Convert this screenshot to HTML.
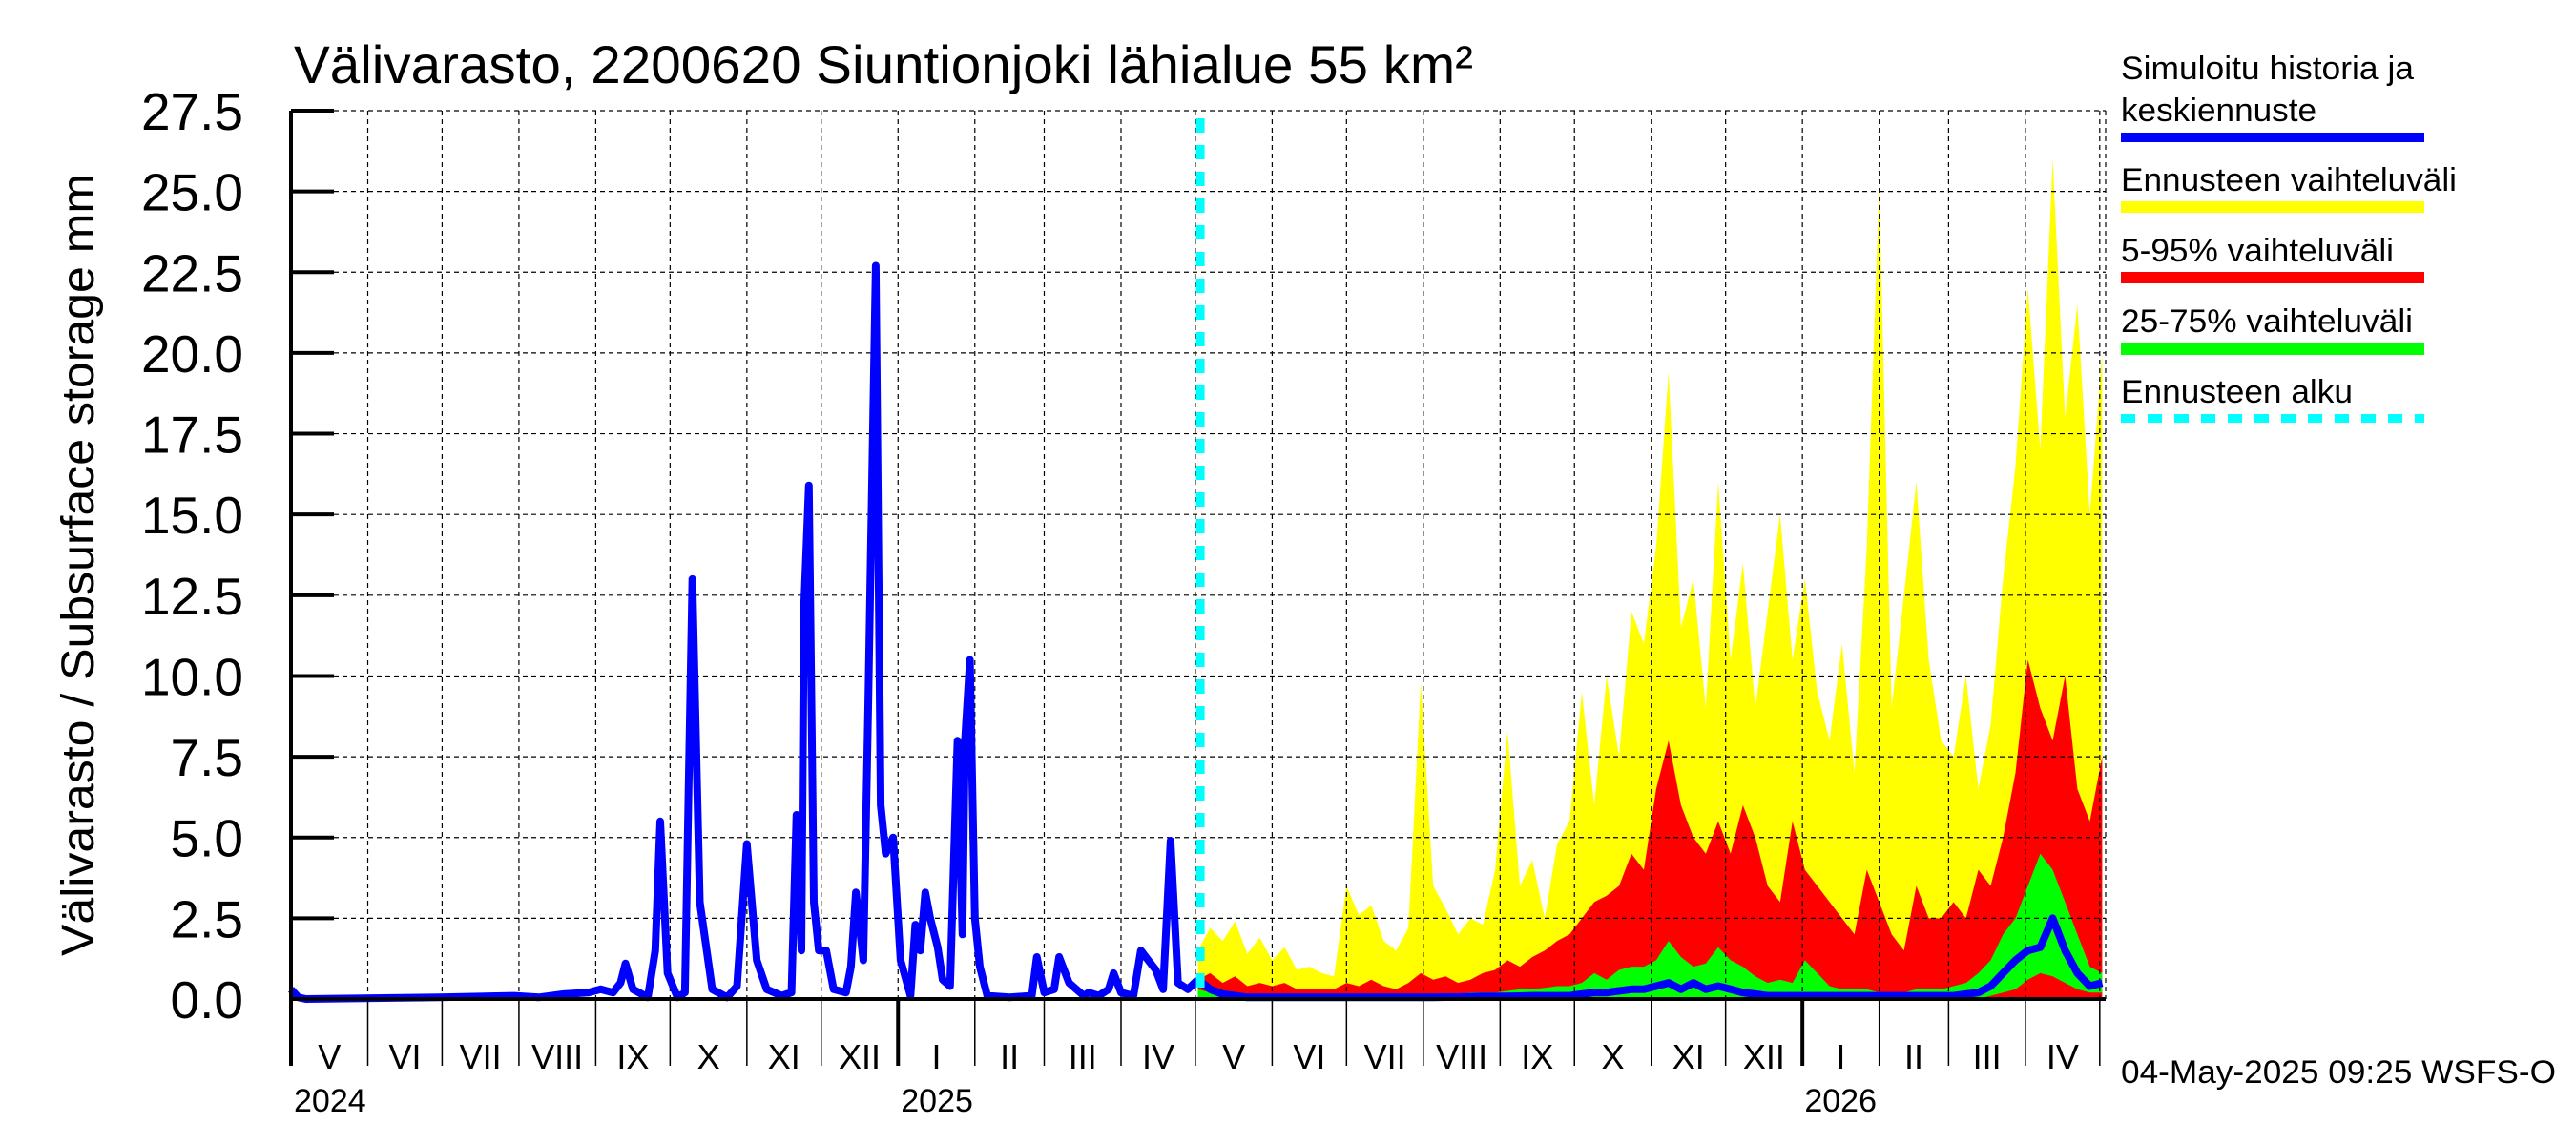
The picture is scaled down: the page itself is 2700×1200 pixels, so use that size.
<!DOCTYPE html>
<html><head><meta charset="utf-8"><style>
html,body{margin:0;padding:0;background:#fff;}
svg{display:block;font-family:"Liberation Sans",Arial,sans-serif;}
</style></head><body>
<svg id="chart" xmlns="http://www.w3.org/2000/svg" width="2700" height="1200" viewBox="0 0 2700 1200">
<rect x="0" y="0" width="2700" height="1200" fill="#fff"/>
<g id="bands"></g>
<g id="grid"></g>
<g id="lines"></g>
<g id="axes"></g>
<text x="308" y="87" font-size="56" textLength="1236" lengthAdjust="spacingAndGlyphs">Välivarasto, 2200620 Siuntionjoki lähialue 55 km²</text>
<text transform="translate(98,592) rotate(-90)" text-anchor="middle" font-size="48" textLength="820" lengthAdjust="spacingAndGlyphs">Välivarasto / Subsurface storage  mm</text>
<g font-size="34">
<text x="2223" y="83" textLength="307" lengthAdjust="spacingAndGlyphs">Simuloitu historia ja</text>
<text x="2223" y="127" textLength="205" lengthAdjust="spacingAndGlyphs">keskiennuste</text>
<rect x="2223" y="139" width="318" height="10" fill="#0000ff"/>
<text x="2223" y="200" textLength="352" lengthAdjust="spacingAndGlyphs">Ennusteen vaihteluväli</text>
<rect x="2223" y="211" width="318" height="12" fill="#ffff00"/>
<text x="2223" y="274" textLength="286" lengthAdjust="spacingAndGlyphs">5-95% vaihteluväli</text>
<rect x="2223" y="285" width="318" height="12" fill="#ff0000"/>
<text x="2223" y="348" textLength="306" lengthAdjust="spacingAndGlyphs">25-75% vaihteluväli</text>
<rect x="2223" y="359" width="318" height="13" fill="#00ff00"/>
<text x="2223" y="422" textLength="243" lengthAdjust="spacingAndGlyphs">Ennusteen alku</text>
<line x1="2223" y1="438.5" x2="2541" y2="438.5" stroke="#00ffff" stroke-width="9" stroke-dasharray="15,13"/>
</g>
<text x="2223" y="1135" font-size="34" textLength="456" lengthAdjust="spacingAndGlyphs">04-May-2025 09:25 WSFS-O</text>
</svg>
<script>
// ---- data ----
const yTicks = [0, 2.5, 5, 7.5, 10, 12.5, 15, 17.5, 20, 22.5, 25, 27.5];
const yTickLabels = ["0.0","2.5","5.0","7.5","10.0","12.5","15.0","17.5","20.0","22.5","25.0","27.5"];
const monthStarts = [0,31,61,92,123,153,184,214,245,276,304,335,365,396,426,457,488,518,549,579,610,641,669,700,730];
const monthLabels = ["V","VI","VII","VIII","IX","X","XI","XII","I","II","III","IV","V","VI","VII","VIII","IX","X","XI","XII","I","II","III","IV"];
const yearLabels = ["2024","2025","2026"];
const yearDays = [0,245,610];
const forecastStartDay = 367;
const histDays = [0,3,6,60,90,100,110,120,125,130,133,135,138,144,147,149,152,156,159,162,165,170,176,180,184,188,192,198,202,204,206,207,209,211,213,216,219,224,226,228,231,233,236,238,240,243,246,250,252,254,256,258,261,263,266,269,271,272,274,276,278,281,290,299,301,304,308,310,314,320,322,326,330,332,335,340,343,346,349,352,355,358,362,366];
const histValues = [0.3,0.05,0.0,0.05,0.1,0.05,0.15,0.2,0.3,0.2,0.5,1.1,0.3,0.05,1.5,5.5,0.8,0.05,0.2,13.0,3.0,0.3,0.05,0.4,4.8,1.2,0.3,0.1,0.2,5.7,1.5,12.0,15.9,3.0,1.5,1.5,0.3,0.2,1.0,3.3,1.2,9.2,22.7,6.0,4.5,5.0,1.2,0.1,2.3,1.5,3.3,2.5,1.6,0.6,0.4,8.0,2.0,8.0,10.5,2.5,1.0,0.1,0.05,0.1,1.3,0.2,0.3,1.3,0.5,0.1,0.2,0.1,0.3,0.8,0.2,0.1,1.5,1.2,0.9,0.3,4.9,0.5,0.3,0.6];
const fcStartDay = 366;
const fcStepDays = 5;
const fcMax = [1.5,2.2,1.8,2.4,1.4,1.9, 1.2,1.6,0.9,1.0,0.8,0.7, 3.5,2.6,2.9,1.8,1.5,2.2, 9.8,3.5,2.8,2.0,2.5,2.3, 4.0,8.3,3.5,4.3,2.5,4.8, 5.5,9.5,6.0,10.0,7.5,12.0, 11.0,14.0,19.4,11.5,13.0,9.0, 16.0,10.5,13.5,9.0,12.0,15.0, 10.5,13.0,9.5,8.0,11.0,7.0, 14.0,25.2,9.0,12.5,16.0,10.5, 8.0,7.5,10.0,6.5,8.5,13.0, 16.5,22.0,17.0,26.0,18.0,21.5,15.0,20.0];
const fcP95 = [0.6,0.8,0.5,0.7,0.4,0.5, 0.4,0.5,0.3,0.3,0.3,0.3, 0.5,0.4,0.6,0.4,0.3,0.5, 0.8,0.6,0.7,0.5,0.6,0.8, 0.9,1.2,1.0,1.3,1.5,1.8, 2.0,2.5,3.0,3.2,3.5,4.5, 4.0,6.5,8.0,6.0,5.0,4.5, 5.5,4.5,6.0,5.0,3.5,3.0, 5.5,4.0,3.5,3.0,2.5,2.0, 4.0,3.0,2.0,1.5,3.5,2.5, 2.5,3.0,2.5,4.0,3.5,5.0, 7.0,10.5,9.0,8.0,10.0,6.5,5.5,7.5];
const fcP75 = [0.3,0.2,0.2,0.1,0.1,0.1, 0.1,0.1,0.1,0.1,0.1,0.1, 0.1,0.1,0.1,0.1,0.1,0.1, 0.1,0.1,0.15,0.15,0.2,0.2, 0.2,0.25,0.3,0.3,0.35,0.4, 0.4,0.5,0.8,0.6,0.9,1.0, 1.0,1.2,1.8,1.3,1.0,1.1, 1.6,1.2,1.0,0.7,0.5,0.6, 0.5,1.2,0.8,0.4,0.3,0.3, 0.3,0.2,0.2,0.2,0.3,0.3, 0.3,0.4,0.5,0.8,1.2,2.0, 2.5,3.5,4.5,4.0,3.0,2.0,1.0,0.8];
const fcP25 = [0,0,0,0,0,0, 0,0,0,0,0,0, 0,0,0,0,0,0, 0,0,0,0,0,0, 0,0,0,0,0,0, 0,0,0,0,0,0, 0,0,0,0,0,0, 0,0,0,0,0,0, 0,0,0,0,0,0, 0,0,0,0,0,0, 0,0,0,0,0.1,0.2, 0.3,0.6,0.8,0.7,0.5,0.3,0.2,0.2];
const fcMedian = [0.6,0.3,0.15,0.1,0.05,0.05, 0.05,0.05,0.05,0.05,0.05,0.05, 0.05,0.05,0.05,0.05,0.05,0.05, 0.05,0.05,0.06,0.06,0.07,0.08, 0.08,0.08,0.09,0.1,0.1,0.1, 0.1,0.15,0.2,0.2,0.25,0.3, 0.3,0.4,0.5,0.3,0.5,0.3, 0.4,0.3,0.2,0.15,0.1,0.1, 0.1,0.1,0.1,0.1,0.1,0.1, 0.1,0.1,0.1,0.1,0.1,0.1, 0.1,0.1,0.15,0.2,0.4,0.8, 1.2,1.5,1.6,2.5,1.5,0.8,0.4,0.5];

// ---- scales ----
const X0 = 305, PXDAY = 2.597, XR = 2207;
const Y0 = 1047, YTOP = 116, YMAX = 27.5;
const xs = d => X0 + d * PXDAY;
const ys = v => Y0 - v / YMAX * (Y0 - YTOP);
const NS = "http://www.w3.org/2000/svg";
function mk(tag, attrs, parent) {
  const e = document.createElementNS(NS, tag);
  for (const k in attrs) e.setAttribute(k, attrs[k]);
  parent.appendChild(e);
  return e;
}
const gB = document.getElementById('bands'), gG = document.getElementById('grid'),
      gL = document.getElementById('lines'), gA = document.getElementById('axes');

// ---- bands ----
function band(upper, lower, color, name) {
  let pts = [];
  for (let i = 0; i < upper.length; i++) pts.push(xs(fcStartDay + i * fcStepDays).toFixed(1) + ',' + ys(upper[i]).toFixed(1));
  for (let i = lower.length - 1; i >= 0; i--) pts.push(xs(fcStartDay + i * fcStepDays).toFixed(1) + ',' + ys(lower[i]).toFixed(1));
  const p = mk('polygon', {points: pts.join(' '), fill: color}, gB);
  
  
}
const zeros = fcMax.map(() => 0);
band(fcMax, zeros, '#ffff00', 'forecast-range-band');
band(fcP95, zeros, '#ff0000', 'band-5-95');
band(fcP75, fcP25, '#00ff00', 'band-25-75');

// ---- grid ----
for (let i = 1; i < yTicks.length; i++) {
  const y = ys(yTicks[i]);
  const l = mk('line', {x1: X0, y1: y, x2: XR, y2: y, stroke: '#000', 'stroke-width': 1.2, 'stroke-dasharray': '5,4'}, gG);
  
  
}
for (let i = 1; i < monthStarts.length; i++) {
  const x = xs(monthStarts[i]);
  const l = mk('line', {x1: x, y1: YTOP, x2: x, y2: Y0, stroke: '#000', 'stroke-width': 1.2, 'stroke-dasharray': '5,4'}, gG);
  
  
}
{
  const l = mk('line', {x1: XR, y1: YTOP, x2: XR, y2: Y0, stroke: '#000', 'stroke-width': 1.2, 'stroke-dasharray': '5,4'}, gG);
  
  
}

// ---- lines ----
{
  const pts = histDays.map((d, i) => xs(d).toFixed(1) + ',' + ys(histValues[i]).toFixed(1)).join(' ');
  const p = mk('polyline', {points: pts, fill: 'none', stroke: '#0000ff', 'stroke-width': 8, 'stroke-linejoin': 'round'}, gL);
  
  
}
{
  const pts = fcMedian.map((v, i) => xs(fcStartDay + i * fcStepDays).toFixed(1) + ',' + ys(v).toFixed(1)).join(' ');
  const p = mk('polyline', {points: pts, fill: 'none', stroke: '#0000ff', 'stroke-width': 8, 'stroke-linejoin': 'round'}, gL);
  
  
}
{
  const x = xs(forecastStartDay);
  const l = mk('line', {x1: x, y1: YTOP + 8, x2: x, y2: Y0, stroke: '#00ffff', 'stroke-width': 9, 'stroke-dasharray': '15,13'}, gL);
  
  
}

// ---- axes ----
{
  const a = mk('line', {x1: X0, y1: YTOP, x2: X0, y2: 1117, stroke: '#000', 'stroke-width': 4}, gA);
  
  
  const b = mk('line', {x1: X0, y1: Y0, x2: XR, y2: Y0, stroke: '#000', 'stroke-width': 4}, gA);
  
  
}
yTicks.forEach((v, i) => {
  const y = ys(v);
  const t = mk('line', {x1: X0, y1: y, x2: X0 + 45, y2: y, stroke: '#000', 'stroke-width': 4}, gA);
  
  
  const lb = mk('text', {x: 255, y: y + 20, 'text-anchor': 'end', 'font-size': 55}, gA);
  lb.textContent = yTickLabels[i];
  
  
});
monthStarts.forEach((d, i) => {
  const x = xs(d);
  const isYear = yearDays.indexOf(d) > 0;
  const t = mk('line', {x1: x, y1: Y0, x2: x, y2: 1117, stroke: '#000', 'stroke-width': isYear ? 4 : 1.5}, gA);
  
  
  if (i < monthLabels.length) {
    const cx = (xs(d) + xs(monthStarts[i + 1])) / 2;
    const lb = mk('text', {x: cx, y: 1120, 'text-anchor': 'middle', 'font-size': 36}, gA);
    lb.textContent = monthLabels[i];
    
    
  }
});
yearDays.forEach((d, i) => {
  const lb = mk('text', {x: i === 2 ? xs(d) + 40 : xs(d) + 3, y: 1165, 'font-size': 34, 'text-anchor': i === 2 ? 'middle' : 'start'}, gA);
  lb.textContent = yearLabels[i];
  
  
});
</script>
</body></html>
